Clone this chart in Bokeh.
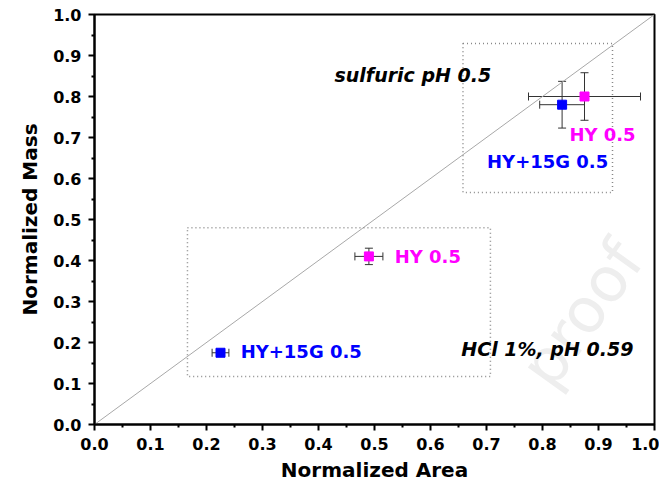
from bokeh.plotting import figure
from bokeh.models import Range1d, FixedTicker, ColumnDataSource, Whisker, PrintfTickFormatter
from bokeh.core.properties import value
from bokeh.embed import file_html
from bokeh.resources import INLINE

# data
samples = ["HY 0.5 sulfuric", "HY+15G 0.5 sulfuric", "HY 0.5 HCl", "HY+15G 0.5 HCl"]
area = [0.875, 0.835, 0.49, 0.225]
area_err = [0.10, 0.04, 0.025, 0.015]
mass = [0.80, 0.78, 0.41, 0.175]
mass_err = [0.058, 0.057, 0.02, 0.006]
colors = ["#ff00ff", "#0000ff", "#ff00ff", "#0000ff"]

ticks = [0.0, 0.1, 0.2, 0.3, 0.4, 0.5, 0.6, 0.7, 0.8, 0.9, 1.0]
minor = [0.05, 0.15, 0.25, 0.35, 0.45, 0.55, 0.65, 0.75, 0.85, 0.95]
diag = [0.0, 1.0]

box_left = [0.658, 0.166]
box_right = [0.925, 0.707]
box_bottom = [0.566, 0.117]
box_top = [0.929, 0.48]

label_text = ["sulfuric pH 0.5", "HY 0.5", "HY+15G 0.5", "HY 0.5", "HY+15G 0.5", "HCl 1%, pH 0.59"]
label_x = [0.4286, 0.848, 0.701, 0.536, 0.261, 0.655]
label_y = [0.853, 0.707, 0.641, 0.41, 0.178, 0.183]
label_color = ["#000000", "#ff00ff", "#0000ff", "#ff00ff", "#0000ff", "#000000"]
label_style = ["bold italic", "bold", "bold", "bold", "bold", "bold italic"]
label_size = ["19px", "18px", "18px", "18px", "18px", "19px"]

FONT = "DejaVu Sans"

p = figure(width=659, height=487, output_backend="svg", toolbar_location=None,
           x_range=Range1d(0, 1), y_range=Range1d(0, 1),
           min_border_left=94, min_border_right=5, min_border_top=14, min_border_bottom=63)
p.grid.visible = False
p.outline_line_color = "black"
p.outline_line_width = 2
p.background_fill_color = "white"

for ax in (p.xaxis[0], p.yaxis[0]):
    ax.ticker = FixedTicker(ticks=ticks, minor_ticks=minor)
    ax.formatter = PrintfTickFormatter(format="%.1f")
    ax.axis_line_width = 2
    ax.major_tick_line_width = 2
    ax.minor_tick_line_width = 2
    ax.major_tick_out = 6
    ax.major_tick_in = 0
    ax.minor_tick_out = 3
    ax.minor_tick_in = 0
    ax.major_label_text_font = FONT
    ax.major_label_text_font_style = "bold"
    ax.major_label_text_font_size = "16px"
    ax.major_label_text_color = "black"
    ax.axis_label_text_font = FONT
    ax.axis_label_text_font_style = "bold"
    ax.axis_label_text_font_size = "20px"
    ax.axis_label_text_color = "black"

p.xaxis.axis_label = "Normalized Area"
p.yaxis.axis_label = "Normalized Mass"
p.xaxis.major_label_standoff = 7
p.yaxis.major_label_standoff = 7
p.xaxis.axis_label_standoff = 5
p.yaxis.axis_label_standoff = 8

# watermark (faint)
p.text([0.87], [0.27], text=["proof"], angle=0.95, text_color="#eeeeee",
       text_font=value(FONT), text_font_size="62px", text_align="center", text_baseline="middle",
       level="underlay")

# diagonal
p.line(diag, diag, line_color="#a8a8a8", line_width=1)

# dotted boxes
p.quad(left=box_left, right=box_right, bottom=box_bottom, top=box_top,
       fill_color=None, line_color="#888888", line_dash="1 3", line_width=1.5)

src = ColumnDataSource(dict(
    x=area, y=mass, xl=[a - e for a, e in zip(area, area_err)], xu=[a + e for a, e in zip(area, area_err)],
    yl=[m - e for m, e in zip(mass, mass_err)], yu=[m + e for m, e in zip(mass, mass_err)], c=colors))

for base, lo, up, dim in (("y", "xl", "xu", "width"), ("x", "yl", "yu", "height")):
    w = Whisker(source=src, base=base, lower=lo, upper=up, dimension=dim,
                line_color="#333333", line_width=1)
    w.upper_head.size = 8
    w.lower_head.size = 8
    w.upper_head.line_color = "#333333"
    w.lower_head.line_color = "#333333"
    p.add_layout(w)

p.scatter("x", "y", source=src, marker="square", size=9, fill_color="c", line_color="c")

lsrc = ColumnDataSource(dict(x=label_x, y=label_y, t=label_text, c=label_color, s=label_style, fs=label_size))
p.text("x", "y", text="t", source=lsrc, text_color="c", text_font_style="s",
       text_font=value(FONT), text_font_size="fs", text_baseline="middle", text_align="left")

open("out.html", "w").write(file_html(p, INLINE))
